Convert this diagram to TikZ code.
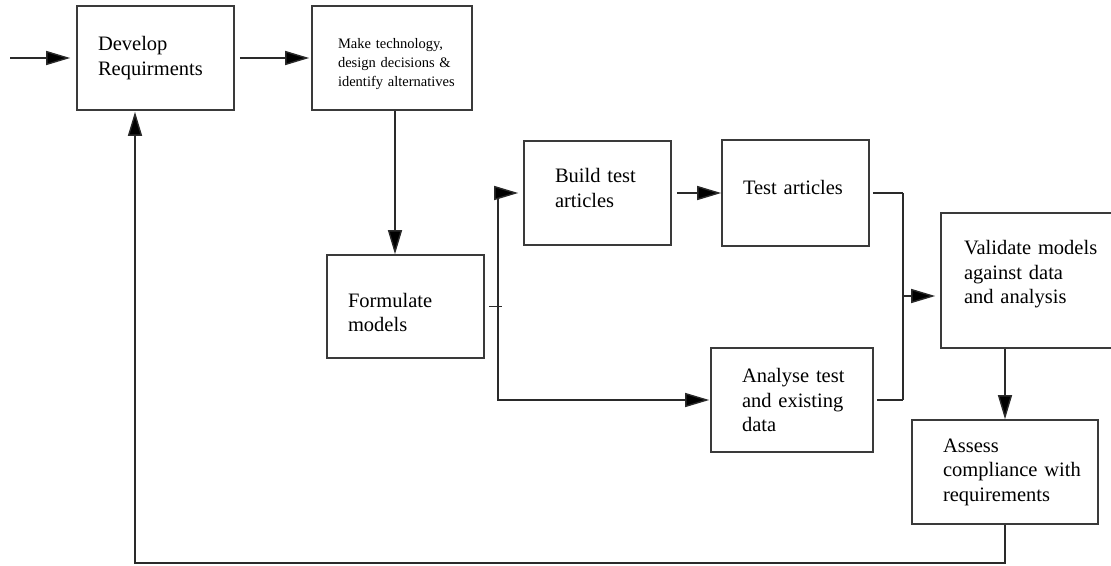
\documentclass[tikz,border=0pt]{standalone}
\usepackage{fontspec}
\setmainfont{Liberation Serif}
\usetikzlibrary{arrows.meta}

\definecolor{boxgray}{HTML}{3A3A3A}
\definecolor{linegray}{HTML}{2A2A2A}

\tikzset{
  procbox/.style={draw=boxgray, line width=1.6pt, rectangle, inner xsep=0pt,
    inner ysep=4pt, align=left, text=black,
    font=\fontsize{20.5}{24.5}\selectfont},
  smalltext/.style={font=\fontsize{14.5}{19}\selectfont},
  link/.style={draw=linegray, line width=1.4pt},
  arrow/.style={link, -{Triangle[length=24pt,width=14pt,fill=black]}},
}

\begin{document}
\begin{tikzpicture}[x=1pt, y=-1pt]
  \useasboundingbox (0,0) rectangle (1111,565);
  \clip (0,0) rectangle (1111,565);

  % process boxes (centre, width, height; left indent of the text;
  % a trailing \vspace* moves the text block up or down in its box)
  \node[procbox, text width=157pt, minimum height=104pt] (develop) at (155.5,58)
    {\leftskip=21pt Develop\\Requirments\par};
  \node[procbox, smalltext, text width=160pt, minimum height=104pt] (make) at (392,58)
    {\leftskip=26pt Make technology,\\design decisions \&\\identify alternatives\par\vspace*{-12pt}};
  \node[procbox, text width=157pt, minimum height=103pt] (formulate) at (405.5,306.5)
    {\leftskip=21pt Formulate\\models\par\vspace*{-12pt}};
  \node[procbox, text width=147pt, minimum height=104pt] (build) at (597.5,193)
    {\leftskip=31pt Build test\\articles\par\vspace*{10pt}};
  \node[procbox, text width=147pt, minimum height=106pt] (test) at (795.5,193)
    {\leftskip=21pt Test articles\par\vspace*{12pt}};
  \node[procbox, text width=162pt, minimum height=104pt] (analyse) at (792,400)
    {\leftskip=31pt Analyse test\\and existing\\data\par};
  \node[procbox, text width=190pt, minimum height=135pt] (validate) at (1036,280.5)
    {\leftskip=23pt Validate models\\against data\\and analysis\par\vspace*{12pt}};
  \node[procbox, text width=186pt, minimum height=104pt] (assess) at (1005,472)
    {\leftskip=31pt Assess\\compliance with\\requirements\par};

  % junction points
  \coordinate (in) at (10,58);
  \coordinate (trunk) at (498,306.5);
  \coordinate (join) at (903,296);
  \coordinate (back) at (135,563);

  % main flow
  \draw[arrow, shorten >=6pt] (in) -- (develop.west);
  \draw[arrow, shorten <=5pt, shorten >=2pt] (develop.east) -- (make.west);
  \draw[arrow] ([xshift=3pt]make.south) -- ([xshift=3pt]make.south |- formulate.north);

  % models feed the test branch and the analysis branch
  \draw[link, shorten <=4pt] (formulate.east) -- ([xshift=4pt]trunk);
  \draw[arrow, shorten >=5pt] (trunk) |- (build.west);
  \draw[arrow, shorten >=1pt] (trunk) |- (analyse.west);
  \draw[arrow, shorten <=5pt] (build.east) -- (test.west);

  % results merge into validation
  \draw[link, shorten <=3pt] (test.east) -- (test.east -| join);
  \draw[link, shorten <=3pt] (analyse.east) -- (analyse.east -| join);
  \draw[link] (test.east -| join) -- (analyse.east -| join);
  \draw[arrow, shorten >=5pt] (join) -- (validate.west |- join);
  \draw[arrow] (assess.north |- validate.south) -- (assess.north);

  % feedback to requirements
  \draw[arrow, shorten >=1pt] (assess.south) |- (back) -- (back |- develop.south);
\end{tikzpicture}
\end{document}
